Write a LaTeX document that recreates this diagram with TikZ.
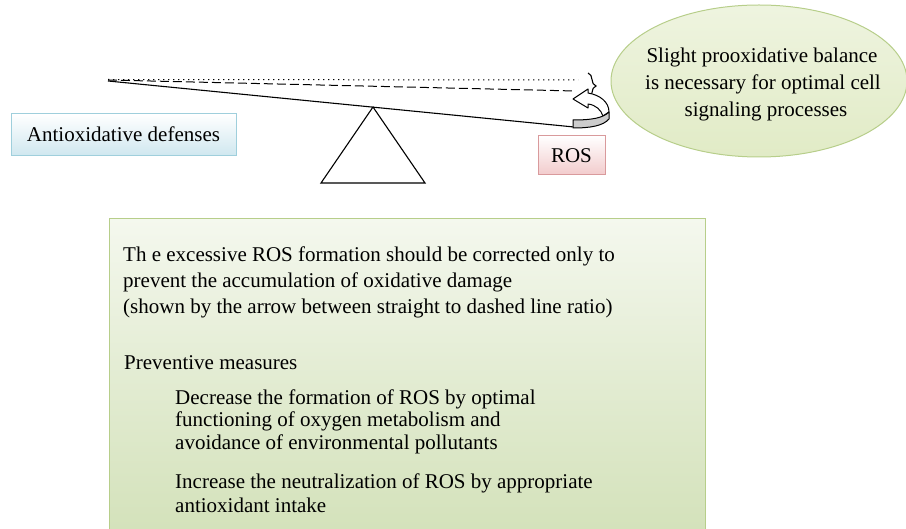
\documentclass[tikz,border=0pt]{standalone}
\usepackage{fontspec}
\setmainfont{Liberation Serif}
\usetikzlibrary{decorations.pathreplacing,shapes.geometric}
\definecolor{blueedge}{HTML}{9FCFDC}
\definecolor{bluefill}{HTML}{CFE7EF}
\definecolor{pinkedge}{HTML}{D99A9C}
\definecolor{pinkfill}{HTML}{F2CBCC}
\definecolor{greenedge}{HTML}{B7CE8A}
\definecolor{greenfill}{HTML}{D4E2BB}
\definecolor{ellfill}{HTML}{E1EBC6}
\tikzset{
  txt/.style={font=\fontsize{21}{26}\selectfont, inner sep=0pt, anchor=base west},
  ctxt/.style={font=\fontsize{21}{26}\selectfont, inner sep=0pt, anchor=base},
  beam/.style={line width=1.1pt, black},
}
\begin{document}
\begin{tikzpicture}[x=1pt,y=-1pt]
\useasboundingbox (0,0) rectangle (906,529);
% ellipse
\node[draw=greenedge, line width=1pt, ellipse, top color=white!45!ellfill, bottom color=ellfill, minimum width=296pt, minimum height=152pt, inner sep=0pt] (ell) at (759,81) {};
\node[ctxt] (e1) at (762,63) {Slight prooxidative balance};
\node[ctxt] (e2) at (763,90) {is necessary for optimal cell};
\node[ctxt] (e3) at (766,117) {signaling processes};
% boxes
\shade[top color=white, bottom color=bluefill] (11,114) rectangle (236,156);
\draw[blueedge, line width=1pt] (11,114) rectangle (236,156);
\node[ctxt] (anti) at (123.5,142) {Antioxidative defenses};
\shade[top color=white, bottom color=pinkfill] (538,136) rectangle (605,175);
\draw[pinkedge, line width=1pt] (538,136) rectangle (605,175);
\node[ctxt] (ros) at (571.5,163) {ROS};
% beam lines
\coordinate (L) at (108,81);
\coordinate (Rs) at (574,127);
\coordinate (Rd) at (575,91);
\coordinate (Rt) at (578,80);
\draw[beam] (L) -- (Rs);
\draw[line width=1pt, dash pattern=on 9pt off 4pt] (108,80) -- (Rd);
\draw[line width=1pt, dash pattern=on 1.4pt off 3.6pt] (108,79.5) -- (Rt);
% fulcrum
\coordinate (apex) at (373,107);
\draw[line width=1.1pt, line join=miter] (apex) -- (321,183) -- (425,183) -- cycle;
% brace
\draw[line width=1.1pt, decorate, decoration={brace, amplitude=8pt}] (588,73) -- (588,99);
% curved arrow
\draw[line width=1pt, fill=white, line join=round]
  (588,93) .. controls (600,95) and (609,102) .. (609,112)
  -- (603,116) .. controls (601,110) and (596,105) .. (588,104)
  -- (588,108) -- (573,99) -- (588,89) -- cycle;
\draw[line width=1pt, fill=gray!40, line join=round]
  (573,120) .. controls (592,120) and (603,118) .. (609,112)
  -- (609,119) .. controls (603,126) and (590,128) .. (573,128) -- cycle;
% bottom box
\shade[top color=greenfill!25!white, bottom color=greenfill, middle color=greenfill!65!white] (109,219) rectangle (705,529);
\draw[greenedge, line width=1pt] (109,530) -- (109,219) -- (705,219) -- (705,530);
\node[txt] (t1) at (123,262) {Th e excessive ROS formation should be corrected only to};
\node[txt] (t2) at (123,288) {prevent the accumulation of oxidative damage};
\node[txt] (t3) at (123,314) {(shown by the arrow between straight to dashed line ratio)};
\node[txt] (t4) at (124,370) {Preventive measures};
\node[txt] (t5) at (175,405) {Decrease the formation of ROS by optimal};
\node[txt] (t6) at (175,427) {functioning of oxygen metabolism and};
\node[txt] (t7) at (175,450) {avoidance of environmental pollutants};
\node[txt] (t8) at (175,489) {Increase the neutralization of ROS by appropriate};
\node[txt] (t9) at (175,513) {antioxidant intake};
\end{tikzpicture}
\end{document}
